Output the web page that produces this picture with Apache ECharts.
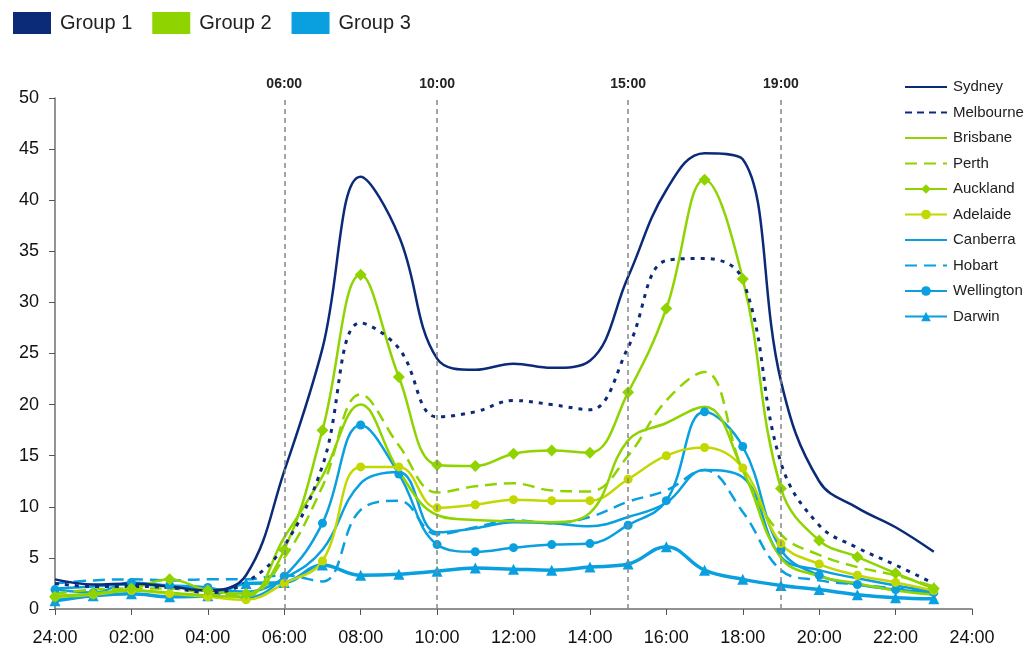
<!DOCTYPE html>
<html>
<head>
<meta charset="utf-8">
<script src="https://cdn.jsdelivr.net/npm/echarts@6/dist/echarts.min.js"></script>
<style>html,body{margin:0;padding:0;background:#fff;}#c{width:1032px;height:648px;}</style>
</head>
<body>
<div id="c"></div>
<script>
const hours = [0,1,2,3,4,5,6,7,8,9,10,11,12,13,14,15,16,17,18,19,20,21,22,23];
const groups = ['Group 1','Group 2','Group 3'];
const cities = ['Sydney','Melbourne','Brisbane','Perth','Auckland','Adelaide','Canberra','Hobart','Wellington','Darwin'];
const guideHours = [6,10,15,19];
const guideLabels = ['06:00','10:00','15:00','19:00'];
const yTicks = [0,5,10,15,20,25,30,35,40,45,50];

const sydney    = [2.9,2.4,2.5,2.2,1.8,3.3,13.5,25.5,42.3,36.5,24.5,23.4,24.0,23.6,24.3,32.5,41.0,44.6,44.0,22.3,12.5,9.9,8.0,5.6];
const melbourne = [2.5,2.2,2.2,2.1,1.6,2.6,6.2,14.0,28.0,25.5,18.8,19.3,20.4,20.0,19.5,25.6,34.1,34.3,32.2,14.3,8.2,6.0,4.3,2.5];
const brisbane  = [1.3,1.5,1.8,1.6,1.3,1.2,7.0,13.0,20.0,13.5,9.2,8.7,8.6,8.5,9.4,16.5,18.2,19.8,13.6,5.0,3.2,2.5,1.8,1.4];
const perth     = [1.5,1.9,2.0,2.0,1.5,1.3,5.0,12.0,21.0,16.0,11.4,12.0,12.3,11.6,11.5,15.0,20.4,23.2,13.6,7.3,5.3,4.1,3.3,2.2];
const auckland  = [1.2,1.5,2.0,2.9,1.8,1.5,5.8,17.5,32.7,22.7,14.1,14.0,15.2,15.5,15.3,21.2,29.4,42.0,32.3,11.8,6.7,5.1,3.5,2.0];
const adelaide  = [1.2,1.4,1.8,1.5,1.2,0.9,2.5,4.7,13.9,13.9,9.9,10.2,10.7,10.6,10.6,12.7,15.0,15.8,13.8,6.4,4.4,3.3,2.6,1.8];
const canberra  = [2.0,2.2,2.4,2.2,2.0,1.7,3.0,5.8,12.3,13.4,7.5,7.9,8.5,8.4,8.1,9.0,10.4,13.6,12.9,5.1,3.8,3.0,2.3,1.7];
const hobart    = [2.5,2.8,2.9,2.8,2.9,2.9,3.3,2.7,9.7,10.6,7.3,8.0,8.7,8.4,9.0,10.5,11.6,13.6,9.5,3.8,2.8,2.4,2.0,1.6];
const wellington= [1.9,1.6,2.6,2.3,2.1,1.1,3.2,8.4,18.0,13.2,6.3,5.6,6.0,6.3,6.4,8.2,10.6,19.3,15.9,5.8,3.3,2.4,1.9,1.6];
const darwin    = [0.8,1.3,1.5,1.2,1.3,2.5,2.6,4.3,3.3,3.4,3.7,4.0,3.9,3.8,4.1,4.4,6.1,3.8,2.9,2.3,1.9,1.4,1.1,1.0];

const NAVY = '#0b2a78', GREEN = '#8fd400', YG = '#c2d800', BLUE = '#0aa0e0';
const FONT = 'Liberation Sans, Arial, sans-serif';
const pts = v => hours.map((h,i) => [h, v[i]]);
function line(name, vals, color, opts) {
  opts = opts || {};
  return {
    name: name, type: 'line', data: pts(vals), smooth: 0.4,
    symbol: opts.symbol || 'none', symbolSize: opts.size || 9, showSymbol: !!opts.symbol,
    lineStyle: {color: color, width: opts.width || 2.5, type: opts.dash || 'solid'},
    itemStyle: {color: color}, color: color,
    emphasis: {disabled: true}
  };
}
const series = [
  {name:'Group 1', type:'line', data:[], color:NAVY, itemStyle:{color:NAVY}},
  {name:'Group 2', type:'line', data:[], color:GREEN, itemStyle:{color:GREEN}},
  {name:'Group 3', type:'line', data:[], color:BLUE, itemStyle:{color:BLUE}},
  line('Darwin', darwin, BLUE, {symbol:'triangle', size:11, width:3.5}),
  line('Wellington', wellington, BLUE, {symbol:'circle', size:9}),
  line('Hobart', hobart, BLUE, {dash:[12,7]}),
  line('Canberra', canberra, BLUE, {}),
  line('Adelaide', adelaide, YG, {symbol:'circle', size:9}),
  line('Auckland', auckland, GREEN, {symbol:'diamond', size:12}),
  line('Perth', perth, GREEN, {dash:[12,7]}),
  line('Brisbane', brisbane, GREEN, {}),
  line('Melbourne', melbourne, NAVY, {dash:[4,6], width:3}),
  line('Sydney', sydney, NAVY, {})
];
series.push({
  name:'guides', type:'line', data:[], silent:true,
  markLine:{
    silent:true, symbol:['none','none'], animation:false,
    lineStyle:{color:'#888', width:1.5, type:[5,4]},
    label:{show:true, position:'end', distance:7, color:'#222', fontWeight:'bold', fontSize:14, fontFamily:FONT,
      formatter: p => guideLabels[guideHours.indexOf(p.value)]},
    data: guideHours.map(h => ({xAxis:h}))
  }
});

const noMarker = {Sydney:1, Melbourne:1, Brisbane:1, Perth:1, Canberra:1, Hobart:1};
const cityLegend = cities.map(n => {
  const item = {name:n};
  if (noMarker[n]) item.itemStyle = {opacity:0};
  if (n === 'Melbourne') item.lineStyle = {type:[7,5]};
  return item;
});

const chart = echarts.init(document.getElementById('c'), null, {renderer:'canvas'});
chart.setOption({
  animation:false,
  backgroundColor:'#fff',
  textStyle:{fontFamily:FONT},
  grid:{left:55, right:60, top:98, bottom:39},
  legend:[
    {data:groups, left:8, top:7, icon:'rect', itemWidth:38, itemHeight:22, itemGap:20,
     textStyle:{fontSize:20, color:'#222', padding:[0,0,0,4], fontFamily:FONT}, selectedMode:false},
    {data:cityLegend, orient:'vertical', left:899, top:74, itemWidth:42, itemHeight:12, itemGap:9.5,
     textStyle:{fontSize:15, lineHeight:16, color:'#222', padding:[0,0,0,1], fontFamily:FONT}, selectedMode:false}
  ],
  xAxis:{type:'value', min:0, max:24, interval:2,
    axisLine:{lineStyle:{color:'#6f6f6f', width:1.5}},
    axisTick:{show:true, length:6, lineStyle:{color:'#555'}},
    splitLine:{show:false},
    axisLabel:{fontSize:18, color:'#111', margin:20,
      formatter: v => (v===0||v===24) ? '24:00' : (v<10?'0':'')+v+':00'}},
  yAxis:{type:'value', min:yTicks[0], max:yTicks[yTicks.length-1], interval:5,
    axisLine:{show:true, lineStyle:{color:'#6f6f6f', width:1.5}},
    axisTick:{show:true, length:6, lineStyle:{color:'#555'}},
    splitLine:{show:false},
    axisLabel:{fontSize:18, color:'#111', margin:16}},
  series:series
});
</script>
</body>
</html>
